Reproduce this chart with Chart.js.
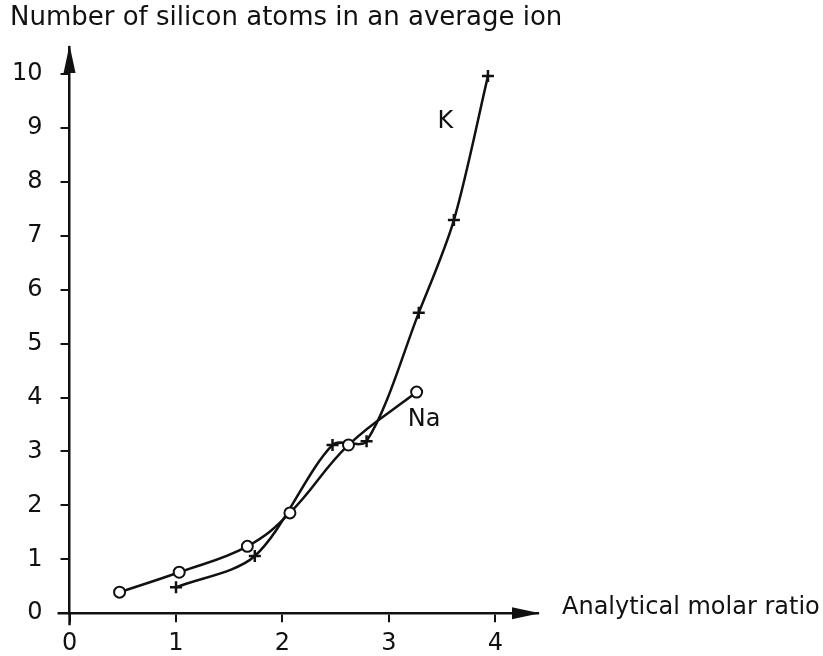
<!DOCTYPE html>
<html>
<head>
<meta charset="utf-8">
<script src="https://cdn.jsdelivr.net/npm/chart.js@4.4.1/dist/chart.umd.min.js"></script>
<style>
  html, body { margin: 0; padding: 0; background: #fff; }
  #wrap { width: 823px; height: 656px; }
</style>
</head>
<body>
<div id="wrap"><canvas id="siliconChart"></canvas></div>
<script>
// values
const naRatio   = [0.47, 1.03, 1.67, 2.07, 2.62, 3.26];
const naSilicon = [0.39, 0.76, 1.24, 1.86, 3.12, 4.10];
const kRatio    = [1.00, 1.74, 2.47, 2.79, 3.28, 3.61, 3.93];
const kSilicon  = [0.48, 1.06, 3.12, 3.19, 5.57, 7.29, 9.96];
const xTicks = [0, 1, 2, 3, 4];
const yTicks = [0, 1, 2, 3, 4, 5, 6, 7, 8, 9, 10];

const FONT = '"DejaVu Sans", sans-serif';
const INK = '#111';

const toPoints = (xs, ys) => xs.map((x, i) => ({ x: x, y: ys[i] }));

// axis titles, arrows, overhang and the series labels
const decor = {
  id: 'decor',
  afterDraw(chart) {
    const { ctx, scales: { x, y } } = chart;
    const x0 = x.getPixelForValue(0), y0 = y.getPixelForValue(0);
    const xEnd = x.right, yEnd = y.top;
    ctx.save();
    ctx.strokeStyle = INK;
    ctx.fillStyle = INK;
    ctx.lineWidth = 2.5;
    // small overhang past the origin
    ctx.beginPath();
    ctx.moveTo(x0 - 12, y0); ctx.lineTo(x0, y0);
    ctx.moveTo(x0, y0); ctx.lineTo(x0, y0 + 12);
    ctx.stroke();
    // x arrow
    ctx.beginPath();
    ctx.moveTo(xEnd + 2, y0);
    ctx.lineTo(xEnd - 26, y0 - 6);
    ctx.lineTo(xEnd - 26, y0 + 6);
    ctx.closePath();
    ctx.fill();
    // y arrow
    ctx.beginPath();
    ctx.moveTo(x0, yEnd - 2);
    ctx.lineTo(x0 - 6, yEnd + 26);
    ctx.lineTo(x0 + 6, yEnd + 26);
    ctx.closePath();
    ctx.fill();

    ctx.textBaseline = 'middle';
    ctx.textAlign = 'left';
    ctx.font = '26px ' + FONT;
    ctx.fillText('Number of silicon atoms in an average ion', 10, 18);
    ctx.font = '24px ' + FONT;
    ctx.fillText('Analytical molar ratio', xEnd + 24, y0 - 5);
    ctx.textAlign = 'center';
    ctx.fillText('K', x.getPixelForValue(3.53), y.getPixelForValue(9.11));
    ctx.fillText('Na', x.getPixelForValue(3.33), y.getPixelForValue(3.58));
    ctx.restore();
  }
};

new Chart(document.getElementById('siliconChart'), {
  type: 'scatter',
  data: {
    datasets: [
      {
        label: 'Na',
        data: toPoints(naRatio, naSilicon),
        showLine: true,
        borderColor: INK,
        borderWidth: 2.5,
        tension: 0.4,
        pointStyle: 'circle',
        pointRadius: 5.5,
        pointBackgroundColor: '#fff',
        pointBorderColor: INK,
        pointBorderWidth: 2
      },
      {
        label: 'K',
        data: toPoints(kRatio, kSilicon),
        showLine: true,
        borderColor: INK,
        borderWidth: 2.5,
        tension: 0.3,
        pointStyle: 'cross',
        pointRadius: 6,
        pointBorderColor: INK,
        pointBorderWidth: 2.5
      }
    ]
  },
  options: {
    responsive: true,
    maintainAspectRatio: false,
    animation: false,
    layout: { padding: { left: -6, right: 285, top: 47, bottom: -9 } },
    plugins: {
      legend: { display: false },
      tooltip: { enabled: false },
      title: { display: false }
    },
    scales: {
      x: {
        type: 'linear',
        min: 0,
        max: 4.4,
        afterBuildTicks: (s) => { s.ticks = xTicks.map(v => ({ value: v })); },
        border: { display: true, color: INK, width: 2.5 },
        grid: { display: true, drawOnChartArea: false, drawTicks: true, tickLength: 9, color: INK, lineWidth: 2 },
        ticks: { color: INK, padding: 7, font: { family: FONT, size: 24 } }
      },
      y: {
        type: 'linear',
        min: 0,
        max: 10.5,
        afterBuildTicks: (s) => { s.ticks = yTicks.map(v => ({ value: v })); },
        border: { display: true, color: INK, width: 2.5 },
        grid: { display: true, drawOnChartArea: false, drawTicks: true, tickLength: 9, color: INK, lineWidth: 2 },
        ticks: { color: INK, padding: 18, font: { family: FONT, size: 24 } }
      }
    }
  },
  plugins: [decor]
});
</script>
</body>
</html>
